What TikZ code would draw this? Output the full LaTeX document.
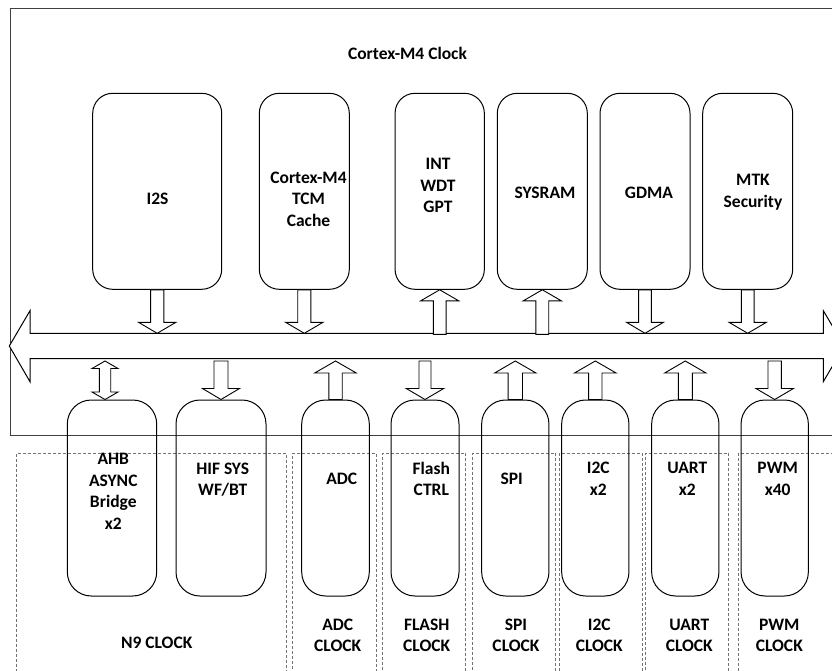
\documentclass[tikz,border=0pt]{standalone}
\usepackage{fontspec}
\setmainfont{Carlito}
\usetikzlibrary{calc}
\newcommand\BlkDn[5]{\draw[blk] let \p1=#1, \p2=#2 in
  (\x1-#3pt,\y1) -- (\x1+#3pt,\y1) -- (\x1+#3pt,\y2+#5pt) -- (\x1+#4pt,\y2+#5pt) -- (\x1,\y2)
  -- (\x1-#4pt,\y2+#5pt) -- (\x1-#3pt,\y2+#5pt) -- cycle;}
\newcommand\BlkUp[5]{\draw[blk] let \p1=#1, \p2=#2 in
  (\x1-#3pt,\y1) -- (\x1+#3pt,\y1) -- (\x1+#3pt,\y2-#5pt) -- (\x1+#4pt,\y2-#5pt) -- (\x1,\y2)
  -- (\x1-#4pt,\y2-#5pt) -- (\x1-#3pt,\y2-#5pt) -- cycle;}
\newcommand\BlkBoth[5]{\draw[blk] let \p1=#1, \p2=#2 in
  (\x1,\y1) -- (\x1+#4pt,\y1-#5pt) -- (\x1+#3pt,\y1-#5pt) -- (\x1+#3pt,\y2+#5pt) -- (\x1+#4pt,\y2+#5pt)
  -- (\x1,\y2) -- (\x1-#4pt,\y2+#5pt) -- (\x1-#3pt,\y2+#5pt) -- (\x1-#3pt,\y1-#5pt) -- (\x1-#4pt,\y1-#5pt) -- cycle;}
\begin{document}
\begin{tikzpicture}[x=1pt,y=-1pt,
  outerbox/.style={draw=black!75, line width=1pt, inner sep=0pt, anchor=north west},
  topbox/.style={draw=black, line width=1pt, rounded corners=20pt, inner sep=0pt, minimum height=196pt},
  botbox/.style={draw=black, line width=1pt, rounded corners=24pt, inner sep=0pt, minimum height=196pt},
  blk/.style={draw=black, line width=0.9pt, fill=white, line join=miter},
  bus/.style={draw=black, line width=1pt, fill=white, line join=miter},
  region/.style={draw=black!55, dash pattern=on 3pt off 2pt, line width=0.8pt, inner sep=0pt, anchor=north west, minimum height=240pt},
  lbl/.style={font=\bfseries\fontsize{17.5}{21.5}\selectfont, align=center, inner sep=0pt}]
\useasboundingbox (0,0) rectangle (832,671);
\begin{scope}
\clip (0,0) rectangle (832,671);
% outer Cortex-M4 clock domain
\node[outerbox, minimum width=836pt, minimum height=426.7pt] (m4) at (9.5,8.3) {};
% clock regions
\node[region, minimum width=269.7pt] (rn9) at (16,452.7) {};
\node[region, minimum width=83.4pt] (radc) at (292.3,452.7) {};
\node[region, minimum width=83.3pt] (rflash) at (381.7,452.7) {};
\node[region, minimum width=83.3pt] (rspi) at (471.7,452.7) {};
\node[region, minimum width=82.4pt] (ri2c) at (559.3,452.7) {};
\node[region, minimum width=83.3pt] (ruart) at (645,452.7) {};
\node[region, minimum width=110pt] (rpwm) at (738.3,452.7) {};
% bus
\coordinate (busT) at (0,333.3);
\coordinate (busB) at (0,358.7);
\coordinate (busB2) at (0,361);
\draw[bus] (9.3,346) -- (30,310.7) -- (30,333.3) -- (823.3,333.3) -- (823.3,310.7) -- (844.3,346)
  -- (823.3,381.7) -- (823.3,358.7) -- (30,358.7) -- (30,381.7) -- cycle;
% top boxes
\node[topbox, minimum width=129pt] (i2s) at (157.2,191.3) {};
\node[topbox, minimum width=90pt] (cm4) at (304.3,191.3) {};
\node[topbox, minimum width=89.3pt] (int) at (439.7,191.3) {};
\node[topbox, minimum width=90pt] (sysram) at (542.3,191.3) {};
\node[topbox, minimum width=90pt] (gdma) at (645,191.3) {};
\node[topbox, minimum width=90pt] (mtk) at (747.7,191.3) {};
% bottom boxes
\node[botbox, minimum width=89.4pt] (ahb) at (112,498) {};
\node[botbox, minimum width=90pt] (hif) at (221,498) {};
\node[botbox, minimum width=67.6pt] (adc) at (335.5,498) {};
\node[botbox, minimum width=68pt] (flash) at (425,498) {};
\node[botbox, minimum width=67.3pt] (spi) at (515.3,498) {};
\node[botbox, minimum width=67.3pt] (i2c) at (595.3,498) {};
\node[botbox, minimum width=67.3pt] (uart) at (685.3,498) {};
\node[botbox, minimum width=67.3pt] (pwm) at (774.7,498) {};
% top arrows
\BlkDn{(i2s.south)}{(i2s.south |- busT)}{6.6}{18.7}{11}
\BlkDn{(cm4.south)}{(cm4.south |- busT)}{6.6}{18.7}{11}
\BlkUp{([yshift=-1pt]int.south |- busT)}{(int.south)}{6.4}{19}{11}
\BlkUp{([yshift=-1pt]sysram.south |- busT)}{(sysram.south)}{6.4}{19}{11}
\BlkDn{(gdma.south)}{(gdma.south |- busT)}{6.4}{18.5}{11}
\BlkDn{(mtk.south)}{(mtk.south |- busT)}{6.4}{18.7}{11}
% bottom arrows
\BlkBoth{([xshift=-7pt]ahb.north |- busB2)}{([xshift=-7pt]ahb.north)}{5.7}{13}{7.5}
\BlkDn{(hif.north |- busB2)}{(hif.north)}{7}{18.5}{11}
\BlkUp{(adc.north)}{(adc.north |- busB2)}{6.7}{20.8}{12}
\BlkDn{(flash.north |- busB2)}{(flash.north)}{6}{18.7}{11}
\BlkUp{(spi.north)}{(spi.north |- busB2)}{7.2}{20.7}{12}
\BlkUp{(i2c.north)}{(i2c.north |- busB2)}{6.7}{20.8}{12}
\BlkUp{(uart.north)}{(uart.north |- busB2)}{7}{20.7}{12}
\BlkDn{(pwm.north |- busB2)}{(pwm.north)}{6.7}{18.7}{11}
% labels
\node[lbl] (tm4) at (407.5,53) {Cortex-M4 Clock};
\node[lbl] (ti2s) at (157.5,199) {I2S};
\node[lbl] (tcm4) at (308.5,199.3) {Cortex-M4\\TCM\\Cache};
\node[lbl] (tint) at (438,185.5) {INT\\WDT\\GPT};
\node[lbl] (tsys) at (545,192.7) {SYSRAM};
\node[lbl] (tgdma) at (649,192.7) {GDMA};
\node[lbl] (tmtk) at (753,192) {MTK\\Security};
\node[lbl] (tahb) at (113.3,491.5) {AHB\\ASYNC\\Bridge\\x2};
\node[lbl] (thif) at (222.7,479.7) {HIF SYS\\WF/BT};
\node[lbl] (tadc) at (341.7,479.3) {ADC};
\node[lbl] (tflash) at (431.3,478.8) {Flash\\CTRL};
\node[lbl] (tspi) at (511.7,479.3) {SPI};
\node[lbl] (ti2c) at (598.3,478.8) {I2C\\x2};
\node[lbl] (tuart) at (687.3,478.8) {UART\\x2};
\node[lbl] (tpwm) at (777.7,478.8) {PWM\\x40};
\node[lbl] (cn9) at (156.7,643.3) {N9 CLOCK};
\node[lbl] (cadc) at (337.7,635.5) {ADC\\CLOCK};
\node[lbl] (cflash) at (426.7,635.5) {FLASH\\CLOCK};
\node[lbl] (cspi) at (516,635.5) {SPI\\CLOCK};
\node[lbl] (ci2c) at (599.3,635.5) {I2C\\CLOCK};
\node[lbl] (cuart) at (689.3,635.5) {UART\\CLOCK};
\node[lbl] (cpwm) at (779.3,635.5) {PWM\\CLOCK};
\end{scope}
\end{tikzpicture}
\end{document}
